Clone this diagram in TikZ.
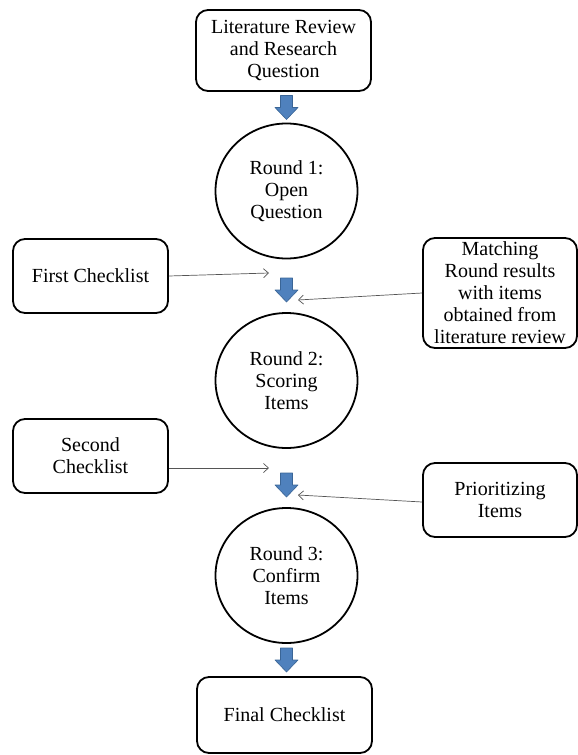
\documentclass[tikz,border=0pt]{standalone}
\usepackage{fontspec}
\setmainfont{Liberation Serif}
\usetikzlibrary{arrows.meta,shapes.geometric}
\definecolor{blkfill}{HTML}{4F81BD}
\definecolor{blkdraw}{HTML}{3A6596}
\definecolor{thinc}{HTML}{555555}
\tikzset{
  txt/.style={font=\fontsize{20}{22}\selectfont, align=center, inner sep=0pt},
  rbox/.style={txt, draw=black, line width=1.8pt, rounded corners=12pt},
  rnd/.style={txt, draw=black, line width=1.8pt, ellipse, minimum width=142pt, minimum height=135pt},
  thinarrow/.style={draw=thinc, line width=0.7pt, -{Straight Barb[length=5pt,width=9pt]}},
  blk/.pic={\draw[fill=blkfill, draw=blkdraw, line width=0.6pt, line join=round]
     (-6,-12) -- (6,-12) -- (6,0) -- (11.5,0) -- (0,12) -- (-11.5,0) -- (-6,0) -- cycle;}
}
\begin{document}
\begin{tikzpicture}[x=1pt,y=-1pt]
\useasboundingbox (0,0) rectangle (578,755);
\node[rbox, minimum width=175pt, minimum height=81pt] (top) at (283.5,50.5) {Literature Review\\and Research\\Question};
\node[rnd] (c1) at (286.5,191) {Round 1:\\Open\\Question};
\node[rbox, minimum width=155pt, minimum height=74pt] (fc) at (90.5,276) {First Checklist};
\node[rbox, minimum width=154pt, minimum height=110pt] (mt) at (500,293) {Matching\\Round results\\with items\\obtained from\\literature review};
\node[rnd] (c2) at (286.5,380.5) {Round 2:\\Scoring\\Items};
\node[rbox, minimum width=155pt, minimum height=74pt] (sc) at (90.5,456) {Second\\Checklist};
\node[rbox, minimum width=154pt, minimum height=74pt] (pr) at (500,500) {Prioritizing\\Items};
\node[rnd] (c3) at (286.5,575.5) {Round 3:\\Confirm\\Items};
\node[rbox, minimum width=175pt, minimum height=76pt] (fin) at (284.5,715) {Final Checklist};
% block arrows
\pic at (286.5,107.5) {blk};
\pic at (286.5,290) {blk};
\pic at (286.5,485) {blk};
\pic at (286.5,660) {blk};
% thin arrows
\coordinate (a1) at (269,273);
\coordinate (a2) at (298,300);
\coordinate (a3) at (269,468);
\coordinate (a4) at (298,495);
\draw[thinarrow] (fc.east) -- (a1);
\draw[thinarrow] (mt.west) -- (a2);
\draw[thinarrow] (sc.east |- a3) -- (a3);
\draw[thinarrow] ([yshift=-2pt]pr.west) -- (a4);
\end{tikzpicture}
\end{document}
